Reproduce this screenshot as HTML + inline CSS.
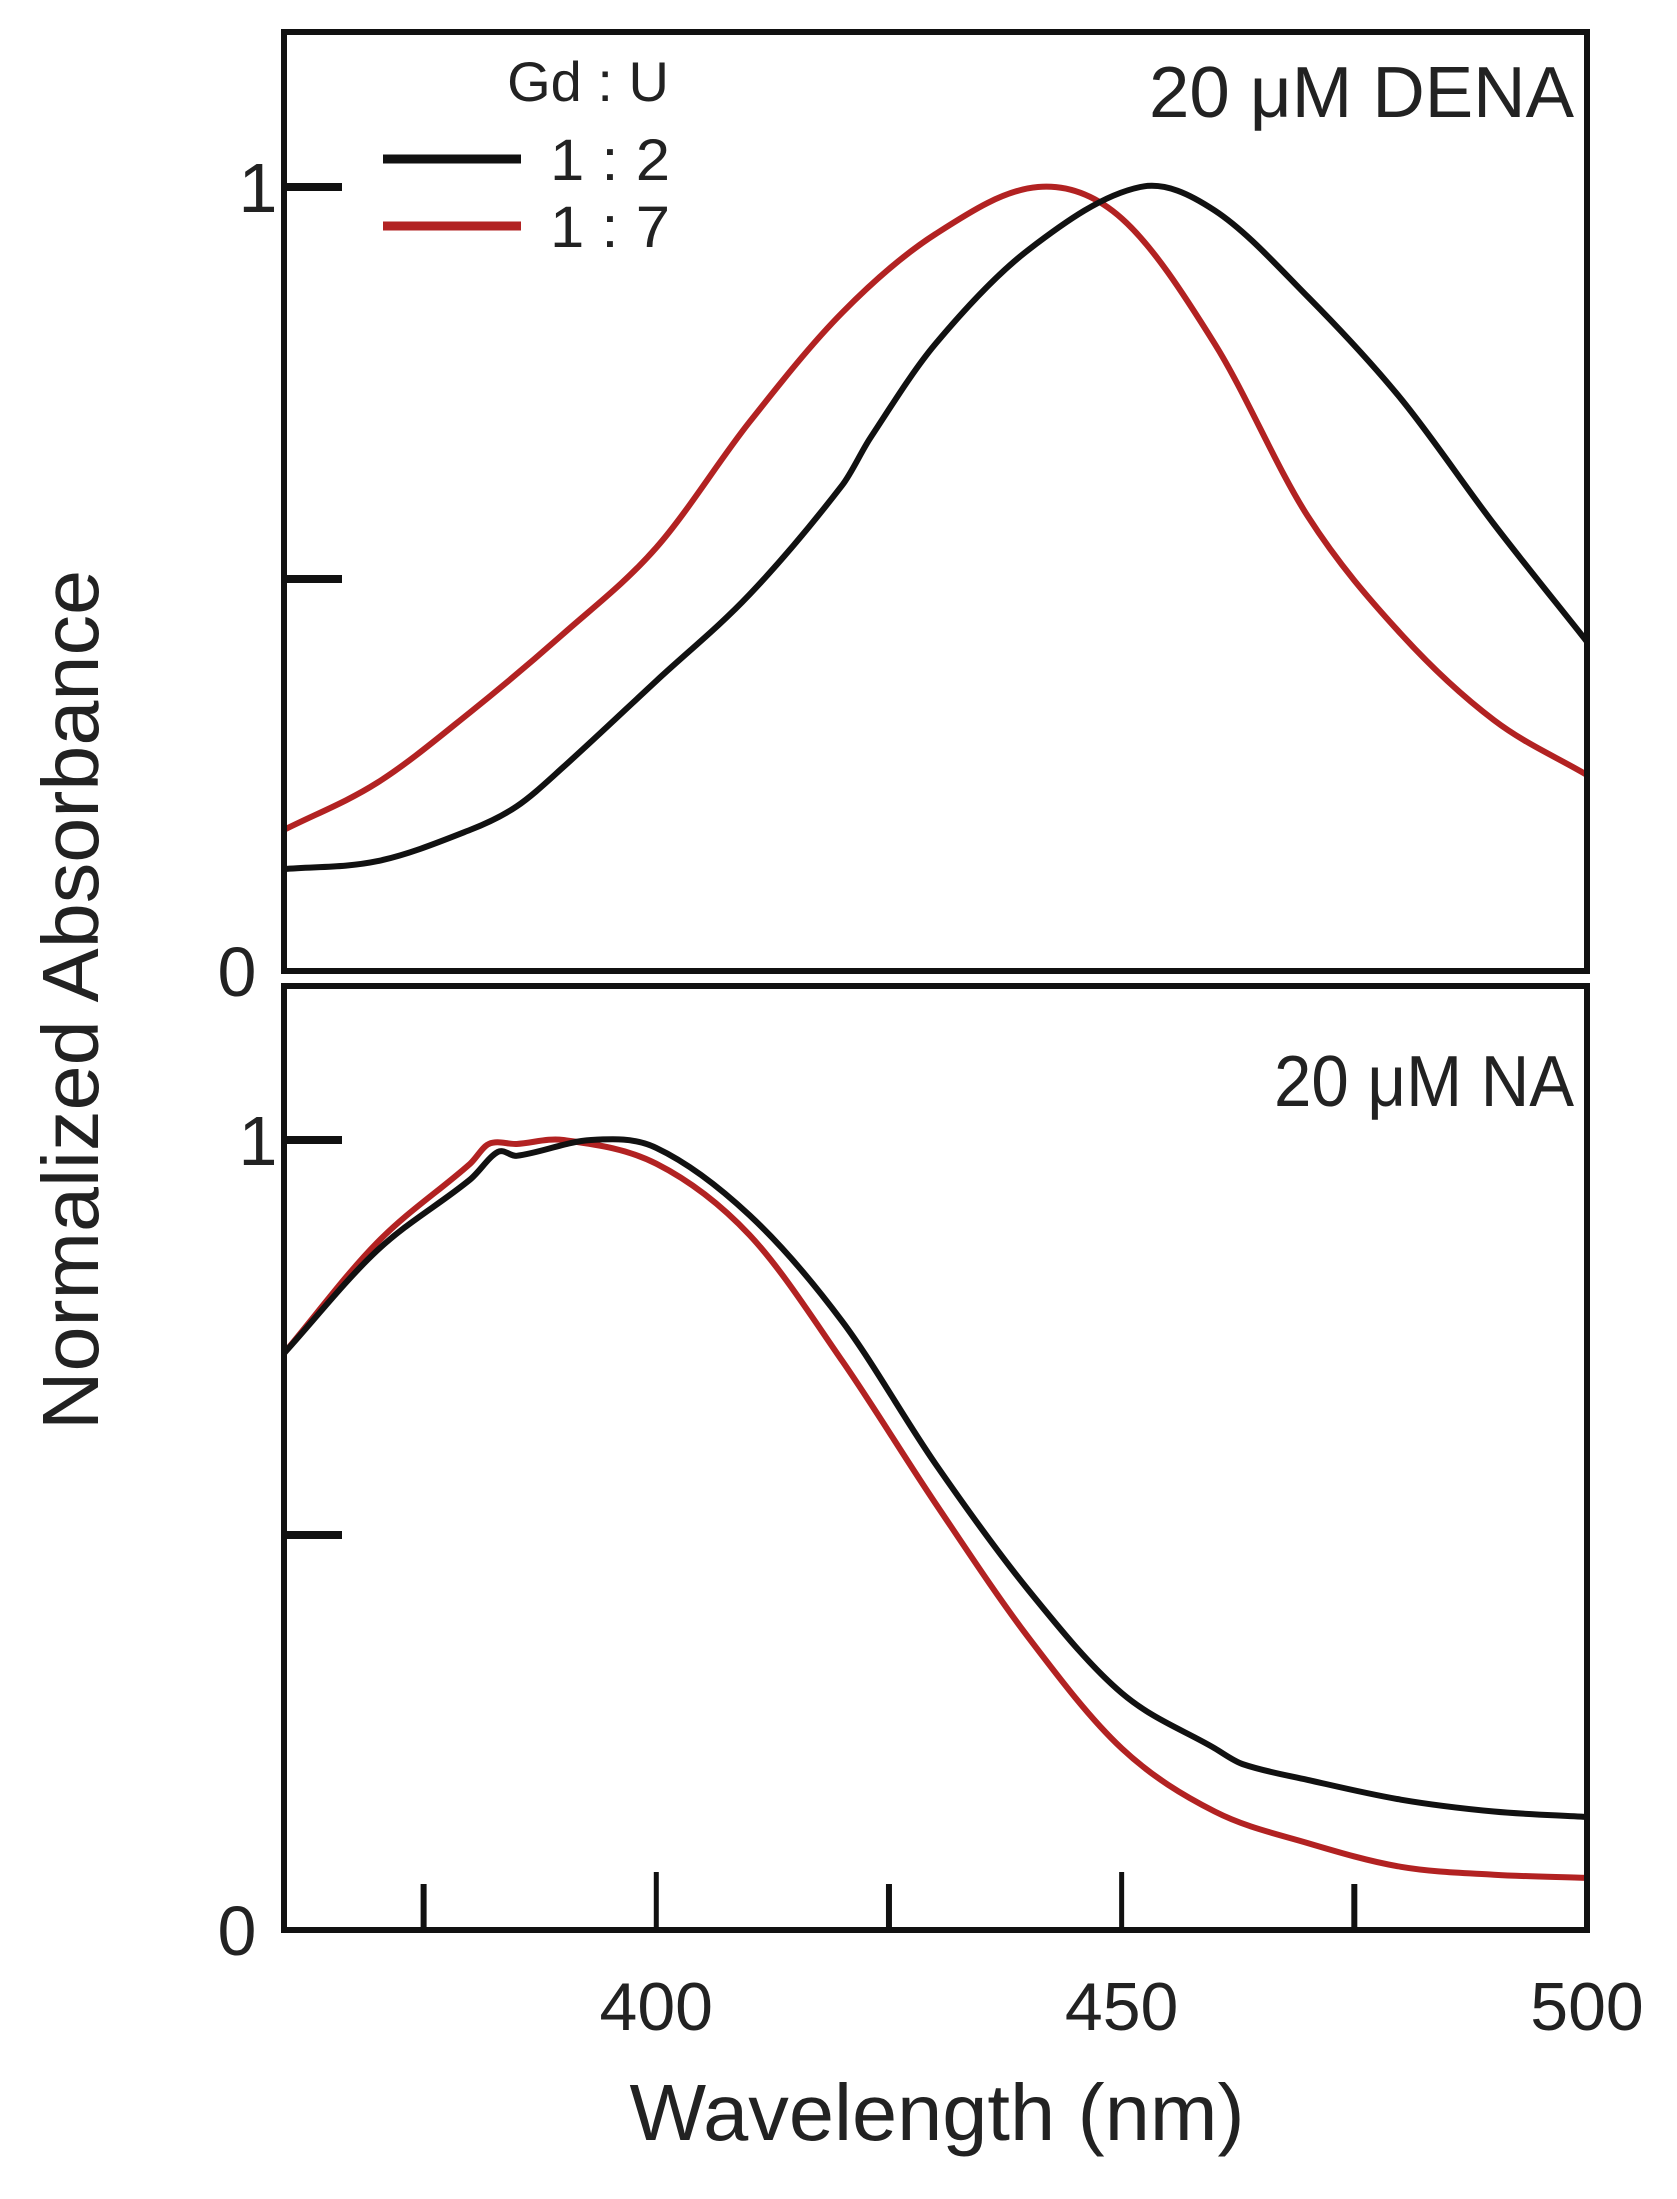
<!DOCTYPE html>
<html><head><meta charset="utf-8"><style>
html,body{margin:0;padding:0;background:#fff}
svg{display:block}
text{font-family:"Liberation Sans",sans-serif;fill:#222}
</style></head><body>
<svg id="chart" width="1677" height="2199" viewBox="0 0 1677 2199" xmlns="http://www.w3.org/2000/svg"></svg>
<script>
const wlDena12 = [360,370,380,385,390,400,410,420,423,430,440,452,460,470,480,490,500];
const absDena12 = [0.13,0.14,0.18,0.21,0.26,0.37,0.48,0.62,0.68,0.80,0.92,1.0,0.97,0.86,0.73,0.57,0.42];
const wlDena17 = [360,370,380,390,400,410,420,430,441,450,460,470,480,490,500];
const absDena17 = [0.18,0.24,0.33,0.43,0.54,0.70,0.84,0.94,1.0,0.96,0.80,0.58,0.43,0.32,0.25];
const wlNa12 = [360,370,380,383,385,393,400,410,420,430,440,450,460,463,470,480,490,500];
const absNa12 = [0.73,0.86,0.95,0.985,0.98,1.0,0.99,0.905,0.77,0.59,0.43,0.30,0.23,0.21,0.19,0.165,0.15,0.143];
const wlNa17 = [360,370,380,382,385,390,400,410,420,430,440,450,460,470,480,490,500];
const absNa17 = [0.73,0.87,0.97,0.995,0.995,1.0,0.97,0.88,0.72,0.54,0.37,0.23,0.15,0.11,0.08,0.07,0.066];
const xMajorTicks = [400,450,500];
const xMinorTicks = [375,425,475];
const yTicks = [0,0.5,1];

const NS='http://www.w3.org/2000/svg';
const svg=document.getElementById('chart');
const X0=284,X1=1587,WMIN=360,WMAX=500;
function xs(w){return X0+(w-WMIN)/(WMAX-WMIN)*(X1-X0);}
const panels=[{top:32,y0:971,y1:187,name:'dena'},{top:986,y0:1930,y1:1140,name:'na'}];
function ys(p,v){return p.y0+(p.y1-p.y0)*v;}
function el(tag,attrs,parent){const e=document.createElementNS(NS,tag);for(const k in attrs)e.setAttribute(k,attrs[k]);(parent||svg).appendChild(e);return e;}
function path(p,wl,ab){
  const pts=wl.map((w,i)=>[xs(w),ys(p,ab[i])]);
  let d='M'+pts[0][0]+','+pts[0][1];
  for(let i=0;i<pts.length-1;i++){
    const p0=pts[Math.max(0,i-1)],p1=pts[i],p2=pts[i+1],p3=pts[Math.min(pts.length-1,i+2)];
    const h=p2[0]-p1[0];
    const m1=(p2[1]-p0[1])/(p2[0]-p0[0]||1), m2=(p3[1]-p1[1])/(p3[0]-p1[0]||1);
    const c1x=p1[0]+h/3,c1y=p1[1]+m1*h/3;
    const c2x=p2[0]-h/3,c2y=p2[1]-m2*h/3;
    d+=' C'+c1x+','+c1y+' '+c2x+','+c2y+' '+p2[0]+','+p2[1];
  }
  return d;
}
const series=[[wlDena12,absDena12,wlDena17,absDena17],[wlNa12,absNa12,wlNa17,absNa17]];
panels.forEach((p,pi)=>{
  const g=el('g',{});
  
  
  const s=series[pi];
  const r=el('path',{d:path(p,s[2],s[3]),fill:'none',stroke:'#b22222','stroke-width':6},g);
  
  
  const b=el('path',{d:path(p,s[0],s[1]),fill:'none',stroke:'#111','stroke-width':6},g);
  
  
  const f=el('rect',{x:X0,y:p.top,width:X1-X0,height:p.y0-p.top,fill:'none',stroke:'#111','stroke-width':6},g);
  
  
  yTicks.forEach(v=>{
    if(v>0){
      const t=el('line',{x1:X0,x2:X0+58,y1:ys(p,v),y2:ys(p,v),stroke:'#111','stroke-width':8},g);
      
      
    }
    if(v!==0.5){
      const l=el('text',{x:v===1?258:237,y:ys(p,v)+25,'font-size':70,'text-anchor':'middle'},g);
      l.textContent=String(v);
      
      
    }
  });
});
const bp=panels[1];
xMajorTicks.forEach(w=>{
  if(w<WMAX){
    const t=el('line',{x1:xs(w),x2:xs(w),y1:bp.y0,y2:bp.y0-58,stroke:'#111','stroke-width':5});
    
    
  }
  const l=el('text',{x:xs(w),y:2030,'font-size':68,'text-anchor':'middle'});
  l.textContent=String(w);
  
  
});
xMinorTicks.forEach(w=>{
  const t=el('line',{x1:xs(w),x2:xs(w),y1:bp.y0,y2:bp.y0-46,stroke:'#111','stroke-width':6});
  
  
});
</script>
<svg style="position:absolute;left:0;top:0" width="1677" height="2199">
<text x="937" y="2140" font-size="80" text-anchor="middle" textLength="615" lengthAdjust="spacingAndGlyphs">Wavelength (nm)</text>
<text x="0" y="0" font-size="80" text-anchor="middle" transform="translate(98,1000) rotate(-90)" textLength="860" lengthAdjust="spacingAndGlyphs">Normalized Absorbance</text>
<text x="1574" y="117" font-size="72" text-anchor="end" textLength="425" lengthAdjust="spacingAndGlyphs">20 μM DENA</text>
<text x="1574" y="1106" font-size="72" text-anchor="end" textLength="300" lengthAdjust="spacingAndGlyphs">20 μM NA</text>
<text x="588" y="101" font-size="56" text-anchor="middle">Gd : U</text>
<line x1="383" x2="521" y1="159" y2="159" stroke="#111" stroke-width="9"/>
<text x="550" y="180" font-size="58" textLength="120" lengthAdjust="spacingAndGlyphs">1 : 2</text>
<line x1="383" x2="521" y1="226" y2="226" stroke="#b22222" stroke-width="9"/>
<text x="550" y="247" font-size="58" textLength="120" lengthAdjust="spacingAndGlyphs">1 : 7</text>
</svg>
</body></html>
